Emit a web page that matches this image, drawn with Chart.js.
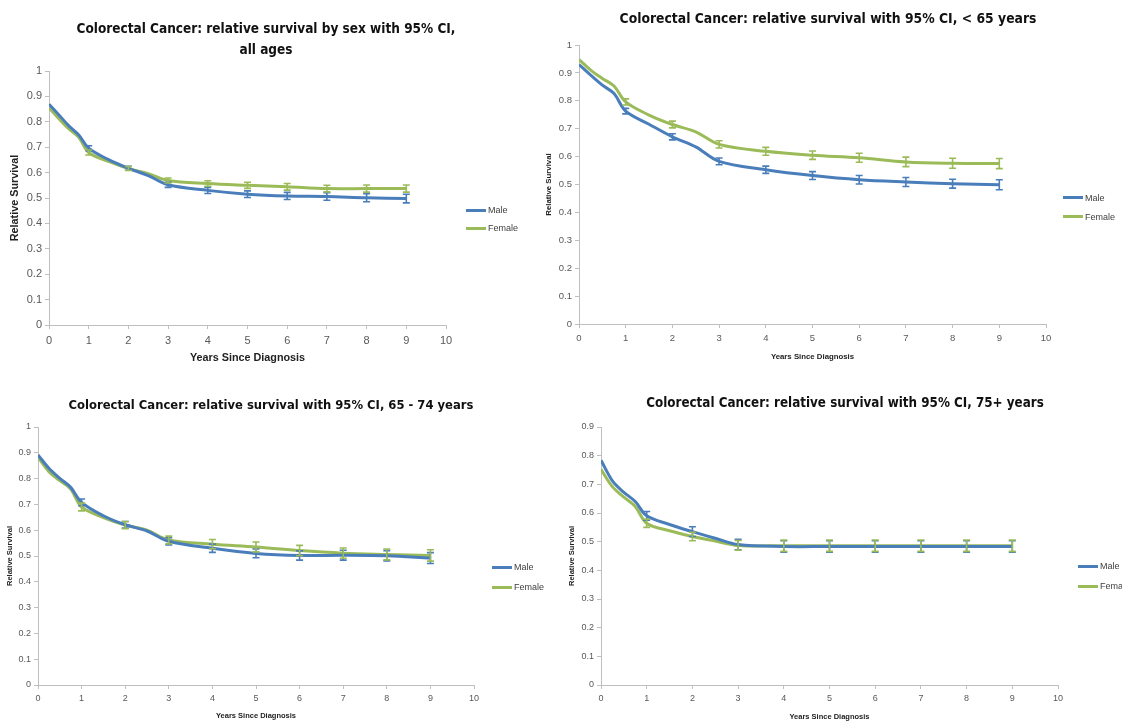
<!DOCTYPE html>
<html>
<head>
<meta charset="utf-8">
<title>Colorectal Cancer: relative survival</title>
<script src="https://cdn.jsdelivr.net/npm/chart.js@4.4.0/dist/chart.umd.min.js"></script>
<style>
    html, body { margin: 0; padding: 0; background: #fff; overflow: hidden; }
    body { width: 1122px; height: 724px; position: relative; }
    canvas { position: absolute; }
    .chart-title {
        position: absolute; width: 600px; text-align: center;
        font-family: 'DejaVu Sans Condensed', 'DejaVu Sans', sans-serif;
        font-weight: bold; font-size: 14px; line-height: 21px; color: #111;
    }
    .legend { position: absolute; font-family: 'Liberation Sans', sans-serif; font-size: 9px; color: #404040; white-space: nowrap; }
    .legend-item { height: 18px; display: flex; align-items: center; }
    .legend-item .swatch { display: inline-block; width: 20px; height: 3px; margin-right: 2px; }
</style>
</head>
<body>

<script>
// Years since diagnosis (x positions of every point)
const years = [0, 0.25, 0.5, 0.75, 1, 1.5, 2, 2.5, 3, 4, 5, 6, 7, 8, 9];
const xTicks = [0, 1, 2, 3, 4, 5, 6, 7, 8, 9, 10];

// All ages
const allMale     = [0.869, 0.827, 0.784, 0.748, 0.696, 0.651, 0.617, 0.588, 0.552, 0.530, 0.515, 0.508, 0.506, 0.501, 0.498];
const allFemale   = [0.855, 0.812, 0.772, 0.739, 0.679, 0.644, 0.616, 0.596, 0.569, 0.557, 0.550, 0.544, 0.537, 0.537, 0.537];
const allMaleCI   = [null, null, null, null, 0.010, null, 0.008, null, 0.010, 0.012, 0.013, 0.014, 0.015, 0.016, 0.017];
const allFemaleCI = [null, null, null, null, 0.010, null, 0.008, null, 0.010, 0.011, 0.012, 0.013, 0.013, 0.014, 0.014];

// < 65 years
const u65Male     = [0.930, 0.892, 0.856, 0.826, 0.763, 0.716, 0.671, 0.635, 0.583, 0.553, 0.532, 0.517, 0.509, 0.503, 0.499];
const u65Female   = [0.948, 0.910, 0.880, 0.853, 0.796, 0.749, 0.715, 0.689, 0.644, 0.619, 0.605, 0.596, 0.581, 0.576, 0.575];
const u65MaleCI   = [null, null, null, null, 0.010, null, 0.011, null, 0.012, 0.013, 0.014, 0.015, 0.016, 0.016, 0.018];
const u65FemaleCI = [null, null, null, null, 0.011, null, 0.012, null, 0.013, 0.014, 0.015, 0.016, 0.017, 0.018, 0.018];

// 65 - 74 years
const midMale     = [0.892, 0.840, 0.801, 0.766, 0.708, 0.656, 0.621, 0.597, 0.557, 0.530, 0.510, 0.502, 0.503, 0.501, 0.492];
const midFemale   = [0.883, 0.827, 0.792, 0.760, 0.690, 0.649, 0.620, 0.600, 0.562, 0.546, 0.535, 0.521, 0.511, 0.506, 0.502];
const midMaleCI   = [null, null, null, null, 0.013, null, 0.013, null, 0.014, 0.016, 0.017, 0.018, 0.019, 0.020, 0.021];
const midFemaleCI = [null, null, null, null, 0.015, null, 0.014, null, 0.015, 0.018, 0.019, 0.020, 0.020, 0.021, 0.022];

// 75+ years
const oldMale     = [0.784, 0.712, 0.672, 0.640, 0.590, 0.560, 0.535, 0.512, 0.490, 0.483, 0.483, 0.483, 0.483, 0.483, 0.483];
const oldFemale   = [0.752, 0.692, 0.655, 0.623, 0.564, 0.538, 0.518, 0.502, 0.487, 0.486, 0.486, 0.486, 0.486, 0.486, 0.486];
const oldMaleCI   = [null, null, null, null, 0.015, null, 0.017, null, 0.018, 0.020, 0.020, 0.020, 0.020, 0.020, 0.020];
const oldFemaleCI = [null, null, null, null, 0.014, null, 0.015, null, 0.017, 0.020, 0.020, 0.020, 0.020, 0.020, 0.020];

const MALE_COLOR = '#4a7ebb';
const FEMALE_COLOR = '#9bbb59';
const AXIS_COLOR = '#bfbfbf';
const TICK_COLOR = '#595959';

/**
 * Error bars (95% CI) drawn through the chart scales
 */
const errorBarsPlugin = {
    id: 'errorBars',
    afterDatasetsDraw(chart) {
        const { ctx, scales: { x, y } } = chart;
        chart.data.datasets.forEach((ds) => {
            if (!ds.ci) return;
            ctx.save();
            ctx.strokeStyle = ds.borderColor;
            ctx.lineWidth = 1.6;
            ds.data.forEach((p, i) => {
                const e = ds.ci[i];
                if (e == null) return;
                const px = x.getPixelForValue(p.x);
                const top = y.getPixelForValue(p.y + e);
                const bot = y.getPixelForValue(p.y - e);
                ctx.beginPath();
                ctx.moveTo(px, top); ctx.lineTo(px, bot);
                ctx.moveTo(px - 3.5, top); ctx.lineTo(px + 3.5, top);
                ctx.moveTo(px - 3.5, bot); ctx.lineTo(px + 3.5, bot);
                ctx.stroke();
            });
            ctx.restore();
        });
    }
};

function points(values) {
    return years.map((t, i) => ({ x: t, y: values[i] }));
}

function series(label, values, ci, color) {
    return {
        label: label,
        data: points(values),
        ci: ci,
        borderColor: color,
        backgroundColor: color,
        borderWidth: 3,
        pointRadius: 0,
        tension: 0.35,
        fill: false
    };
}

/**
 * One panel: canvas box, plot area and axis title placement (page px)
 */
function buildPanel(p) {
    const canvas = document.createElement('canvas');
    canvas.width = p.box.w;
    canvas.height = p.box.h;
    canvas.style.left = p.box.x + 'px';
    canvas.style.top = p.box.y + 'px';
    document.body.appendChild(canvas);

    const lh = p.axisTitleSize * 1.2;
    const yAxisWidth = p.area.l - (p.yTitleX - lh / 2);
    const xAxisHeight = (p.xTitleY + lh / 2) - p.area.b;
    const axisTitleFont = { family: "'Liberation Sans', sans-serif", size: p.axisTitleSize, weight: 'bold', lineHeight: 1.2 };
    const tickFont = { family: "'Liberation Sans', sans-serif", size: p.tickSize };

    const chart = new Chart(canvas.getContext('2d'), {
        type: 'line',
        data: {
            datasets: [
                series('Male', p.male, p.maleCI, MALE_COLOR),
                series('Female', p.female, p.femaleCI, FEMALE_COLOR)
            ]
        },
        options: {
            responsive: false,
            animation: false,
            layout: {
                padding: {
                    left: p.yTitleX - lh / 2 - p.box.x,
                    top: p.area.t - p.box.y,
                    right: p.box.x + p.box.w - p.area.r,
                    bottom: p.box.y + p.box.h - (p.xTitleY + lh / 2)
                }
            },
            plugins: {
                legend: { display: false },
                tooltip: { enabled: false }
            },
            scales: {
                x: {
                    type: 'linear',
                    min: 0,
                    max: 10,
                    afterBuildTicks: (scale) => { scale.ticks = xTicks.map(v => ({ value: v })); },
                    afterFit: (scale) => { scale.height = xAxisHeight; },
                    ticks: { color: TICK_COLOR, font: tickFont, padding: p.tickPad, maxRotation: 0 },
                    grid: { drawOnChartArea: false, drawTicks: true, tickLength: 4, color: AXIS_COLOR },
                    border: { color: AXIS_COLOR, width: 1 },
                    title: { display: true, text: 'Years Since Diagnosis', color: '#222', font: axisTitleFont, padding: 0 }
                },
                y: {
                    min: 0,
                    max: p.yMax,
                    ticks: {
                        stepSize: 0.1,
                        color: TICK_COLOR,
                        font: tickFont,
                        padding: 3,
                        callback: (v) => String(+v.toFixed(1))
                    },
                    afterFit: (scale) => { scale.width = yAxisWidth; },
                    grid: { drawOnChartArea: false, drawTicks: true, tickLength: 4, color: AXIS_COLOR },
                    border: { color: AXIS_COLOR, width: 1 },
                    title: { display: true, text: 'Relative Survival', color: '#222', font: axisTitleFont, padding: 0 }
                }
            }
        },
        plugins: [errorBarsPlugin]
    });

    // title
    p.title.forEach((line, i) => {
        const t = document.createElement('div');
        t.className = 'chart-title';
        t.textContent = line;
        t.style.left = (p.titleX - 300) + 'px';
        t.style.top = (p.titleY - 10.5 + i * 21) + 'px';
        t.style.fontSize = p.titleSize + 'px';
        document.body.appendChild(t);
    });

    // legend from the chart datasets
    const legend = document.createElement('div');
    legend.className = 'legend';
    legend.style.left = p.legend.x + 'px';
    legend.style.top = (p.legend.y - 9) + 'px';
    legend.style.fontSize = p.legend.size + 'px';
    chart.data.datasets.forEach((ds) => {
        const row = document.createElement('div');
        row.className = 'legend-item';
        row.style.height = p.legend.gap + 'px';
        const sw = document.createElement('span');
        sw.className = 'swatch';
        sw.style.background = ds.borderColor;
        row.appendChild(sw);
        row.appendChild(document.createTextNode(ds.label));
        legend.appendChild(row);
    });
    document.body.appendChild(legend);
    return chart;
}

buildPanel({
    box: { x: 0, y: 0, w: 540, h: 372 },
    area: { l: 49, t: 71, r: 446, b: 325 },
    yTitleX: 15, xTitleY: 358, axisTitleSize: 10.8, tickSize: 11, tickPad: 5, yMax: 1,
    title: ['Colorectal Cancer: relative survival by sex with 95% CI,', 'all ages'],
    titleX: 266, titleY: 28, titleSize: 13.5,
    legend: { x: 466, y: 210, gap: 18, size: 9 },
    male: allMale, female: allFemale, maleCI: allMaleCI, femaleCI: allFemaleCI
});

buildPanel({
    box: { x: 530, y: 0, w: 592, h: 372 },
    area: { l: 579, t: 45, r: 1046, b: 324 },
    yTitleX: 549, xTitleY: 357, axisTitleSize: 7.8, tickSize: 9.5, tickPad: 5, yMax: 1,
    title: ['Colorectal Cancer: relative survival with 95% CI, < 65 years'],
    titleX: 828, titleY: 18, titleSize: 13.8,
    legend: { x: 1063, y: 197, gap: 19, size: 9 },
    male: u65Male, female: u65Female, maleCI: u65MaleCI, femaleCI: u65FemaleCI
});

buildPanel({
    box: { x: 0, y: 372, w: 550, h: 352 },
    area: { l: 38, t: 427, r: 474, b: 685 },
    yTitleX: 10, xTitleY: 716, axisTitleSize: 7.5, tickSize: 9, tickPad: 4, yMax: 1,
    title: ['Colorectal Cancer: relative survival with 95% CI, 65 - 74 years'],
    titleX: 271, titleY: 404, titleSize: 12.9,
    legend: { x: 492, y: 566, gap: 20, size: 9 },
    male: midMale, female: midFemale, maleCI: midMaleCI, femaleCI: midFemaleCI
});

buildPanel({
    box: { x: 550, y: 372, w: 572, h: 352 },
    area: { l: 601, t: 427, r: 1058, b: 685 },
    yTitleX: 572, xTitleY: 717, axisTitleSize: 7.5, tickSize: 9, tickPad: 4, yMax: 0.9,
    title: ['Colorectal Cancer: relative survival with 95% CI, 75+ years'],
    titleX: 845, titleY: 402, titleSize: 13.3,
    legend: { x: 1078, y: 565, gap: 20, size: 9 },
    male: oldMale, female: oldFemale, maleCI: oldMaleCI, femaleCI: oldFemaleCI
});
</script>
</body>
</html>
